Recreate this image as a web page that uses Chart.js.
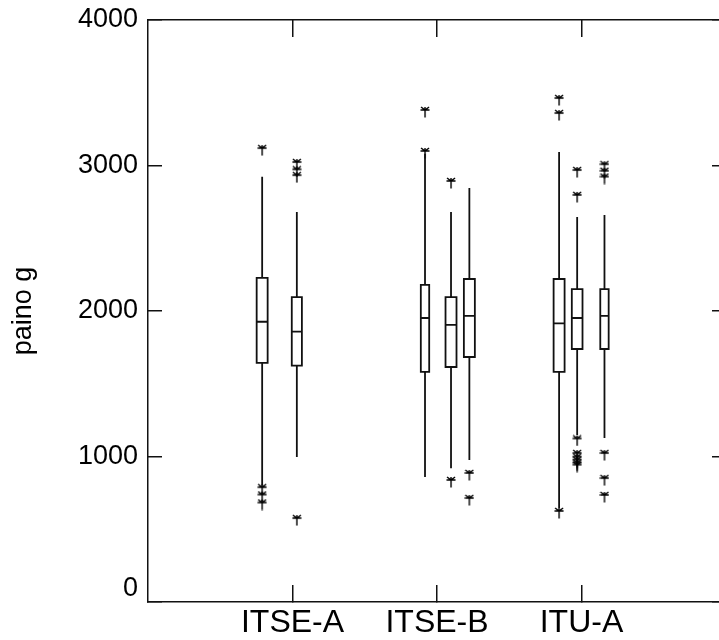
<!DOCTYPE html>
<html>
<head>
<meta charset="utf-8">
<script src="https://cdn.jsdelivr.net/npm/chart.js@4.4.1/dist/chart.umd.min.js"></script>
<style>
	html, body { margin: 0; padding: 0; background: #fff; overflow: hidden; }
	canvas { display: block; }
</style>
</head>
<body>
<canvas id="chart" width="738" height="640"></canvas>
<script>
// data
const categories = ['ITSE-A', 'ITSE-B', 'ITU-A']
const boxGroup = [0, 0, 1, 1, 1, 2, 2, 2]
const lowerWhisker = [800, 997, 859, 920, 976, 646, 1148, 1127]
const lowerQuartile = [1643, 1624, 1581, 1615, 1684, 1581, 1739, 1739]
const median = [1926, 1858, 1952, 1904, 1966, 1915, 1952, 1966]
const upperQuartile = [2227, 2096, 2179, 2096, 2220, 2220, 2151, 2151]
const upperWhisker = [2923, 2680, 3080, 2680, 2845, 3093, 2646, 2660]
const outliers = [
	[3106, 775, 725, 670],
	[3010, 2960, 2920, 563],
	[3368, 3086],
	[2880, 825],
	[873, 701],
	[3450, 3347, 612],
	[2955, 2784, 1110, 1010, 985, 965, 945, 930],
	[2995, 2950, 2910, 1010, 838, 722],
]
const yTicks = [0, 1000, 2000, 3000, 4000]

// layout of the boxes inside each category (x units)
const boxOffset = [-0.21, 0.03, -0.083, 0.097, 0.224, -0.155, -0.03, 0.159]
const boxHalfWidth = [0.038, 0.035, 0.029, 0.038, 0.038, 0.038, 0.037, 0.029]

const X_TICK = 17
const Y_TICK = 14
const INK = '#111'

Chart.defaults.font.family = '"Liberation Sans", Arial, Helvetica, sans-serif'
Chart.defaults.font.size = 27
Chart.defaults.color = '#000'

function starGlyph() {
	const c = document.createElement('canvas')
	c.width = 10
	c.height = 12
	const g = c.getContext('2d')
	g.strokeStyle = '#000'
	g.lineWidth = 1.4
	g.beginPath()
	g.moveTo(1, 1); g.lineTo(5, 4); g.lineTo(9, 1)
	g.moveTo(0.5, 4); g.lineTo(9.5, 4)
	g.moveTo(5, 1); g.lineTo(5, 11.5)
	g.stroke()
	return c
}

const boxDatasets = boxGroup.map((grp, i) => {
	const cx = grp + 1 + boxOffset[i]
	const hw = boxHalfWidth[i]
	return {
		type: 'scatter',
		showLine: true,
		spanGaps: false,
		borderColor: INK,
		borderWidth: 1.8,
		borderJoinStyle: 'miter',
		pointRadius: 0,
		data: [
			{ x: cx, y: upperWhisker[i] },
			{ x: cx, y: upperQuartile[i] },
			{ x: cx - hw, y: upperQuartile[i] },
			{ x: cx - hw, y: lowerQuartile[i] },
			{ x: cx + hw, y: lowerQuartile[i] },
			{ x: cx + hw, y: upperQuartile[i] },
			{ x: cx, y: upperQuartile[i] },
			{ x: cx, y: null },
			{ x: cx - hw, y: median[i] },
			{ x: cx + hw, y: median[i] },
			{ x: cx, y: null },
			{ x: cx, y: lowerQuartile[i] },
			{ x: cx, y: lowerWhisker[i] },
		],
	}
})

const outlierPoints = []
boxGroup.forEach((grp, i) => {
	outliers[i].forEach(v => outlierPoints.push({ x: grp + 1 + boxOffset[i], y: v }))
})

const catTicks = scale => { scale.ticks = categories.map((c, i) => ({ value: i + 1 })) }
const valTicks = scale => { scale.ticks = yTicks.map(v => ({ value: v })) }
const grid = len => ({ drawOnChartArea: false, drawTicks: true, tickLength: -len, color: INK, lineWidth: 1.5 })
const frameBorder = { display: true, color: INK, width: 1.5 }
// fixed axis sizes, and no extra room for label overflow
const fitTo = (w, h) => s => {
	if (w !== null) s.width = w
	if (h !== null) s.height = h
	s.paddingTop = 0
	s.paddingBottom = 0
	s.paddingLeft = 0
	s.paddingRight = 0
}

new Chart(document.getElementById('chart'), {
	type: 'scatter',
	data: {
		datasets: [
			...boxDatasets,
			{
				type: 'scatter',
				data: outlierPoints,
				pointStyle: starGlyph(),
				pointRadius: 5,
				showLine: false,
			},
		],
	},
	options: {
		responsive: false,
		animation: false,
		devicePixelRatio: 1,
		layout: { autoPadding: false, padding: { top: 20, right: 12, left: 0, bottom: 0 } },
		plugins: { legend: { display: false }, tooltip: { enabled: false } },
		scales: {
			x: {
				type: 'linear',
				position: 'bottom',
				min: 0,
				max: 4,
				afterBuildTicks: catTicks,
				afterFit: fitTo(null, 38),
				grid: grid(X_TICK),
				border: frameBorder,
				ticks: {
					padding: X_TICK + 2,
					maxRotation: 0,
					font: { size: 32 },
					callback: v => categories[v - 1],
				},
			},
			x2: {
				type: 'linear',
				position: 'top',
				min: 0,
				max: 4,
				afterBuildTicks: catTicks,
				afterFit: fitTo(null, 0),
				grid: grid(X_TICK),
				border: frameBorder,
				ticks: { display: false },
			},
			y: {
				type: 'linear',
				position: 'left',
				min: 0,
				max: 4000,
				afterBuildTicks: valTicks,
				afterFit: fitTo(148, null),
				grid: grid(Y_TICK),
				border: frameBorder,
				ticks: {
					padding: Y_TICK + 10,
					font: { lineHeight: 1 },
					// the bottom label sits a little above its line in the original
					callback: v => (v === 0 ? ['0', ''] : String(v)),
				},
				title: { display: true, text: 'paino g', padding: { top: 7, bottom: 0 } },
			},
			y2: {
				type: 'linear',
				position: 'right',
				min: 0,
				max: 4000,
				afterBuildTicks: valTicks,
				afterFit: fitTo(0, null),
				grid: grid(Y_TICK),
				border: frameBorder,
				ticks: { display: false },
			},
		},
	},
})
</script>
</body>
</html>
